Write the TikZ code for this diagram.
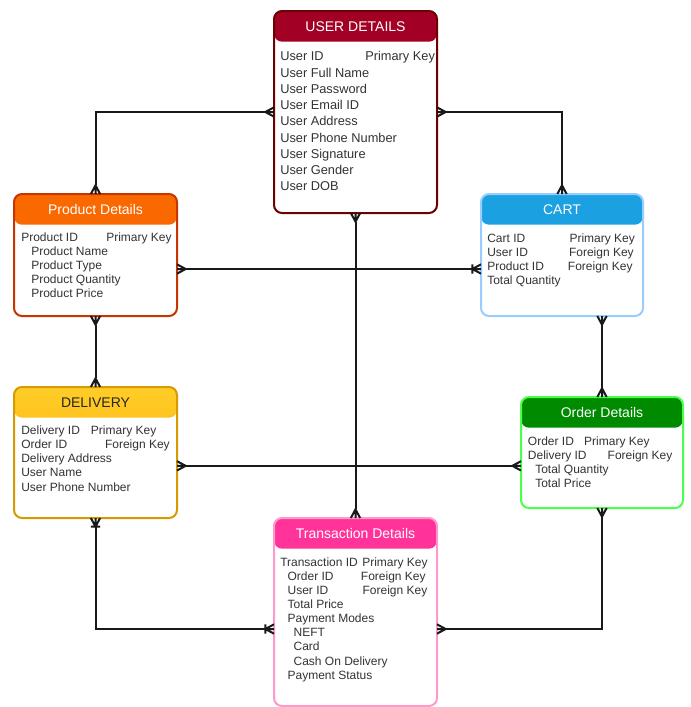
\documentclass[tikz,border=0pt]{standalone}
\usepackage{fontspec}
\setmainfont{Liberation Sans}
\usetikzlibrary{arrows.meta}

\definecolor{userhead}{HTML}{A20025}
\definecolor{userline}{HTML}{6F0000}
\definecolor{prodhead}{HTML}{FA6800}
\definecolor{prodline}{HTML}{C73500}
\definecolor{carthead}{HTML}{1BA1E2}
\definecolor{cartline}{HTML}{99CCFF}
\definecolor{delitop}{HTML}{FFCD28}
\definecolor{delibot}{HTML}{FFA500}
\definecolor{deliline}{HTML}{D79B00}
\definecolor{ordhead}{HTML}{008A00}
\definecolor{ordline}{HTML}{4DFF4D}
\definecolor{tranhead}{HTML}{FF3399}
\definecolor{tranline}{HTML}{FF99CC}

\pgfdeclarearrow{
  name = Crow,
  parameters = {\the\pgfarrowlength,\the\pgfarrowwidth,\the\pgflinewidth},
  setup code = {
    \pgfarrowssettipend{0pt}
    \pgfarrowssetlineend{-\pgfarrowlength}
    \pgfarrowssetvisualbackend{-\pgfarrowlength}
    \pgfarrowssetbackend{-\pgfarrowlength}
    \pgfarrowlinewidth=\pgflinewidth
    \pgfarrowssavethe\pgfarrowlength
    \pgfarrowssavethe\pgfarrowwidth
    \pgfarrowssavethe\pgfarrowlinewidth
  },
  drawing code = {
    \pgfsetdash{}{0pt}
    \pgfsetlinewidth{\pgfarrowlinewidth}
    \pgfpathmoveto{\pgfqpoint{0pt}{.5\pgfarrowwidth}}
    \pgfpathlineto{\pgfqpoint{-\pgfarrowlength}{0pt}}
    \pgfpathlineto{\pgfqpoint{0pt}{-.5\pgfarrowwidth}}
    \pgfpathmoveto{\pgfqpoint{-\pgfarrowlength}{0pt}}
    \pgfpathlineto{\pgfqpoint{0pt}{0pt}}
    \pgfusepathqstroke
  },
  defaults = {length=6.5pt, width=7pt}
}
\pgfdeclarearrow{
  name = CrowBar,
  parameters = {\the\pgfarrowlength,\the\pgfarrowwidth,\the\pgflinewidth},
  setup code = {
    \pgfarrowssettipend{0pt}
    \pgfarrowssetlineend{-\pgfarrowlength}
    \pgfarrowssetvisualbackend{-\pgfarrowlength}
    \pgfarrowssetbackend{-\pgfarrowlength}
    \pgfarrowlinewidth=\pgflinewidth
    \pgfarrowssavethe\pgfarrowlength
    \pgfarrowssavethe\pgfarrowwidth
    \pgfarrowssavethe\pgfarrowlinewidth
  },
  drawing code = {
    \pgfsetdash{}{0pt}
    \pgfsetlinewidth{\pgfarrowlinewidth}
    \pgfpathmoveto{\pgfqpoint{0pt}{.5\pgfarrowwidth}}
    \pgfpathlineto{\pgfqpoint{-\pgfarrowlength}{0pt}}
    \pgfpathlineto{\pgfqpoint{0pt}{-.5\pgfarrowwidth}}
    \pgfpathmoveto{\pgfqpoint{-\pgfarrowlength}{0pt}}
    \pgfpathlineto{\pgfqpoint{0pt}{0pt}}
    \pgfpathmoveto{\pgfqpoint{-\pgfarrowlength}{.5\pgfarrowwidth}}
    \pgfpathlineto{\pgfqpoint{-\pgfarrowlength}{-.5\pgfarrowwidth}}
    \pgfusepathqstroke
  },
  defaults = {length=6.5pt, width=7pt}
}

\newcommand{\keyrow}[3]{\makebox[#1][l]{#2}#3}

\begin{document}
\begin{tikzpicture}[x=0.75pt, y=-0.75pt,
  entity/.style={draw, rounded corners=6pt, fill=white, line width=1.5pt, outer sep=0pt, inner sep=0pt},
  head/.style={path picture={\fill[#1] (path picture bounding box.north west) rectangle ([yshift=-23pt]path picture bounding box.north east);}},
  headshade/.style 2 args={path picture={\shade[top color=#1, bottom color=#2] (path picture bounding box.north west) rectangle ([yshift=-23pt]path picture bounding box.north east);}},
  title/.style={text=white, inner sep=0pt, font=\fontsize{10.5}{12}\selectfont},
  body/.style={anchor=north west, inner sep=0pt, align=left, text=black!80, font=\fontsize{9}{10.6}\selectfont},
  link/.style={line width=1.5pt, draw=black!90}]
\useasboundingbox (0,0) rectangle (690,707);

\node[entity, draw=userline, head=userhead, minimum width=122.25pt, minimum height=151.5pt] (user) at (355.5,112) {};
\node[entity, draw=prodline, head=prodhead, minimum width=122.25pt, minimum height=91.5pt] (product) at (95.5,255) {};
\node[entity, draw=cartline, head=carthead, minimum width=121.5pt, minimum height=91.5pt] (cart) at (562,255) {};
\node[entity, draw=deliline, headshade={delitop}{delibot}, minimum width=122.25pt, minimum height=98.25pt] (delivery) at (95.5,452.5) {};
\node[entity, draw=ordline, head=ordhead, minimum width=121.5pt, minimum height=83.25pt] (order) at (602,452.5) {};
\node[entity, draw=tranline, head=tranhead, minimum width=122.25pt, minimum height=141pt] (transaction) at (355.5,612) {};

\node[title] (usertitle) at ([yshift=-11.5pt]user.north) {USER DETAILS};
\node[title] (producttitle) at ([yshift=-11.5pt]product.north) {Product Details};
\node[title] (carttitle) at ([yshift=-11.5pt]cart.north) {CART};
\node[title, text=black!85] (deliverytitle) at ([yshift=-11.5pt]delivery.north) {DELIVERY};
\node[title] (ordertitle) at ([yshift=-11.5pt]order.north) {Order Details};
\node[title] (transactiontitle) at ([yshift=-11.5pt]transaction.north) {Transaction Details};

\node[body, font=\fontsize{9.6}{12.2}\selectfont] (userbody) at (280,51.2) {%
  \keyrow{63.75pt}{User ID}{Primary Key}\\ User Full Name\\ User Password\\ User Email ID\\
  User Address\\ User Phone Number\\ User Signature\\ User Gender\\ User DOB};
\node[body] (productbody) at (21,232.5) {%
  \keyrow{63.75pt}{Product ID}{Primary Key}\\ \hspace*{7.5pt}Product Name\\
  \hspace*{7.5pt}Product Type\\ \hspace*{7.5pt}Product Quantity\\ \hspace*{7.5pt}Product Price};
\node[body] (cartbody) at (487,233.2) {%
  \keyrow{61.7pt}{Cart ID}{Primary Key}\\ \keyrow{61.3pt}{User ID}{Foreign Key}\\
  \keyrow{60.5pt}{Product ID}{Foreign Key}\\ Total Quantity};
\node[body] (deliverybody) at (21,425.5) {%
  \keyrow{52.3pt}{Delivery ID}{Primary Key}\\ \keyrow{62.8pt}{Order ID}{Foreign Key}\\
  Delivery Address\\ User Name\\ User Phone Number};
\node[body] (orderbody) at (527.7,436.2) {%
  \keyrow{42.2pt}{Order ID}{Primary Key}\\ \keyrow{59.8pt}{Delivery ID}{Foreign Key}\\
  \hspace*{5.5pt}Total Quantity\\ \hspace*{5.5pt}Total Price};
\node[body] (transactionbody) at (280,557.2) {%
  \keyrow{61.5pt}{Transaction ID}{Primary Key}\\
  \hspace*{5.5pt}\keyrow{55pt}{Order ID}{Foreign Key}\\
  \hspace*{5.5pt}\keyrow{56.25pt}{User ID}{Foreign Key}\\
  \hspace*{5.5pt}Total Price\\ \hspace*{5.5pt}Payment Modes\\
  \hspace*{10pt}NEFT\\ \hspace*{10pt}Card\\ \hspace*{10pt}Cash On Delivery\\
  \hspace*{5.5pt}Payment Status};

\draw[link, Crow-Crow] (user.west) -| (product.north);
\draw[link, Crow-Crow] (user.east) -| (cart.north);
\draw[link, Crow-Crow] (user.south) -- (transaction.north);
\draw[link, Crow-CrowBar] ([yshift=-10.5pt]product.east) -- ([yshift=-10.5pt]cart.west);
\draw[link, Crow-Crow] (product.south) -- (delivery.north);
\draw[link, Crow-Crow] (cart.south -| order.north) -- (order.north);
\draw[link, Crow-Crow] ([yshift=-10pt]delivery.east) -- ([yshift=-10pt]order.west);
\draw[link, CrowBar-CrowBar] (delivery.south) |- ([yshift=-12.75pt]transaction.west);
\draw[link, Crow-Crow] (order.south) |- ([yshift=-12.75pt]transaction.east);
\end{tikzpicture}
\end{document}
